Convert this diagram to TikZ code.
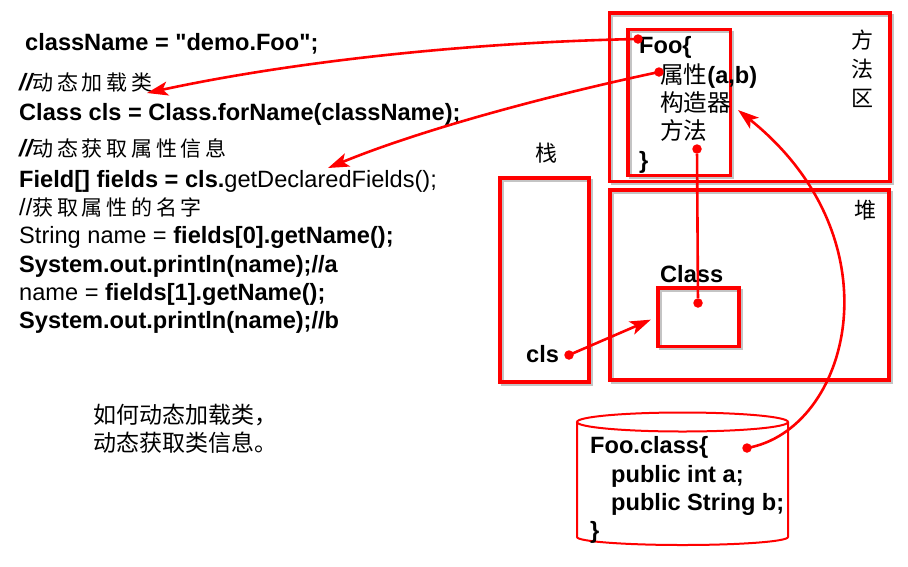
\documentclass[tikz,border=0pt]{standalone}
\usepackage{fontspec}
\newfontfamily\codefont{Liberation Sans}
\newfontfamily\cjk{Noto Sans CJK SC}
\newfontfamily\cjkw[LetterSpace=18]{Noto Sans CJK SC}
\usetikzlibrary{arrows.meta}
\definecolor{rfRed}{HTML}{FF0000}
\definecolor{rfShade}{HTML}{C4C4C4}

\begin{document}
\begin{tikzpicture}[x=1pt,y=-1pt,
  code/.style={anchor=base west,inner sep=0pt,font=\fontsize{23.6}{28}\selectfont\codefont\bfseries},
  cjknote/.style={anchor=base west,inner sep=0pt,font=\fontsize{23}{28}\selectfont\cjk},
  area/.style={draw=rfRed,line width=3.2pt,inner sep=0pt,
               preaction={draw=rfShade,line width=2.5pt,transform canvas={xshift=2.5pt,yshift=-2.5pt}}},
  jar/.style={draw=rfRed,line width=2pt},
  knob/.style={circle,fill=rfRed,inner sep=0pt,minimum size=9.5pt},
  refarrow/.style={draw=rfRed,line width=2.6pt,-{Stealth[length=21pt,width=14pt,inset=5pt]}},
  link/.style={draw=rfRed,line width=2.6pt}]
\useasboundingbox (0,0) rectangle (908,566);

%% Code (left)
\node[code] (clsname) at (25,50) {className = "demo.Foo";};
\node[code] (cmt1)    at (19,90) {\itshape//{\upshape\mdseries\cjkw\fontsize{21}{28}\selectfont 动态加载类}};
\node[code] (load)    at (19,120) {Class cls = Class.forName(className);};
\node[code] (cmt2)    at (19,156) {\itshape//{\upshape\mdseries\cjkw\fontsize{21}{28}\selectfont 动态获取属性信息}};
\node[code] (fields)  at (19,187) {Field[] fields = cls.{\mdseries getDeclaredFields();}};
\node[code] (cmt3)    at (19,215) {\mdseries//{\cjkw\fontsize{21}{28}\selectfont 获取属性的名字}};
\node[code] (name0)   at (19,243) {{\mdseries String name = }fields[0].getName();};
\node[code] (printa)  at (19,272) {System.out.println(name);//a};
\node[code] (name1)   at (19,300) {{\mdseries name = }fields[1].getName();};
\node[code] (printb)  at (19,328) {System.out.println(name);//b};

\node[cjknote] (q1) at (93,423) {如何动态加载类，};
\node[cjknote] (q2) at (93,451) {动态获取类信息。};

%% Method area
\node[area,minimum width=280.5pt,minimum height=168.5pt] (method) at (749.75,97.25) {};
\node[area,minimum width=102.5pt,minimum height=146pt] (foobox) at (679.25,102.5) {};
\node[font=\fontsize{22}{29}\selectfont\cjk,align=center] (mlabel) at (862,69) {方\\法\\区};
\node[code] (foo)    at (639,53)  {Foo\{};
\node[code] (attr)   at (660,83)  {{\mdseries\cjk 属性}(a,b)};
\node[code] (ctor)   at (660,111) {{\mdseries\cjk 构造器}};
\node[code] (meth)   at (660,139) {{\mdseries\cjk 方法}};
\node[code] (fooend) at (639,168) {\}};

%% Stack and heap
\node[font=\fontsize{22}{28}\selectfont\cjk] (slabel) at (546,153) {栈};
\node[area,minimum width=89pt,minimum height=204pt] (stack) at (544.5,280) {};
\node[area,minimum width=279pt,minimum height=190pt] (heap) at (749.5,285) {};
\node[font=\fontsize{22}{28}\selectfont\cjk] (hlabel) at (865,210) {堆};
\node[code] (clabel) at (660,282) {Class};
\node[area,minimum width=81pt,minimum height=58.5pt] (classbox) at (698.5,317.25) {};
\node[code] (cls) at (526,362) {cls};

%% Class file on disk
\draw[jar] (577,422) -- (577,537) arc[start angle=180,end angle=360,x radius=105.5pt,y radius=8pt] -- (788,422);
\draw[jar] (682.5,422) ellipse [x radius=105.5pt,y radius=9.5pt];
\node[code] (filehead) at (590,453) {Foo.class\{};
\node[code] (fielda)   at (611,482) {public int a;};
\node[code] (fieldb)   at (611,510) {public String b;};
\node[code] (fileend)  at (590,538) {\}};

%% Dots and arrows
\node[knob] (foodot)   at (638,39)  {};
\node[knob] (attrdot)  at (659,72)  {};
\node[knob] (methdot)  at (697,149) {};
\node[knob] (classdot) at (698,303) {};
\node[knob] (clsdot)   at (569,355) {};
\node[knob] (filedot)  at (747,448) {};
\coordinate (loadtip)  at (147,93);
\coordinate (fieldtip) at (328,168);
\coordinate (ctortip)  at (738,110);

\draw[refarrow] (foodot.center) .. controls (480,42) and (300,60) .. (loadtip);
\draw[refarrow] (attrdot.center) .. controls (550,95) and (420,130) .. (fieldtip);
\draw[link] (methdot) -- (classdot);
\draw[refarrow,shorten >=6pt] (clsdot.center) -- (classbox.west);
\draw[refarrow] (filedot.center) .. controls (850,430) and (900,240) .. (ctortip);
\end{tikzpicture}
\end{document}
